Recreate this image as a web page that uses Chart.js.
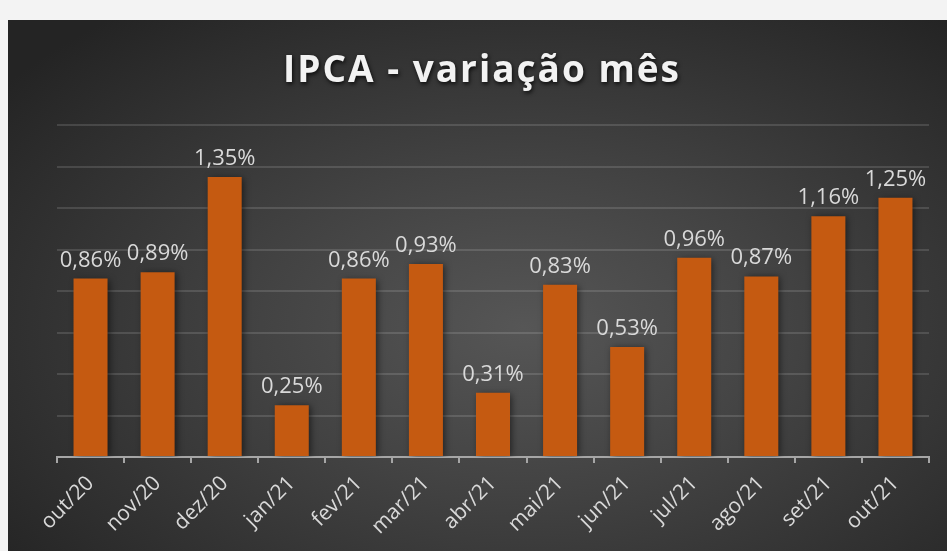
<!DOCTYPE html>
<html>
<head>
<meta charset="utf-8">
<script src="https://cdn.jsdelivr.net/npm/chart.js@4"></script>
<style>
    html, body { margin: 0; padding: 0; }
    body { width: 947px; height: 551px; background: #f3f3f3; position: relative; overflow: hidden; }
    .Painel {
        position: absolute; left: 8px; top: 20px; width: 939px; height: 531px;
        background: radial-gradient(ellipse 70% 75% at 55% 58%, #565656 0%, #434343 40%, #2c2c2c 85%, #242424 100%);
    }
    canvas { display: block; }
</style>
</head>
<body>
<div class="Painel"><canvas id="graph-1" width="939" height="531"></canvas></div>
<script>
// dados do gráfico
const meses   = ['out/20', 'nov/20', 'dez/20', 'jan/21', 'fev/21', 'mar/21', 'abr/21', 'mai/21', 'jun/21', 'jul/21', 'ago/21', 'set/21', 'out/21']
const ipca    = [0.86, 0.89, 1.35, 0.25, 0.86, 0.93, 0.31, 0.83, 0.53, 0.96, 0.87, 1.16, 1.25]
const titulo  = 'IPCA - variação mês'

const fmt = v => v.toFixed(2).replace('.', ',') + '%'

// titulo com sombra
const tituloPlugin = {
    id: 'tituloPlugin',
    afterDraw(chart){
        const ctx = chart.ctx
        ctx.save()
        ctx.font = 'bold 37px "Open Sans"'
        if ('letterSpacing' in ctx) ctx.letterSpacing = '2px'
        ctx.fillStyle = '#f2f2f2'
        ctx.textAlign = 'center'
        ctx.textBaseline = 'alphabetic'
        ctx.shadowColor = 'rgba(0,0,0,0.8)'
        ctx.shadowBlur = 4
        ctx.shadowOffsetX = 1
        ctx.shadowOffsetY = 2
        ctx.fillText(titulo, 474, 62)
        ctx.restore()
    }
}

// sombra das barras
const sombraPlugin = {
    id: 'sombraPlugin',
    beforeDatasetsDraw(chart){
        const ctx = chart.ctx
        ctx.save()
        ctx.shadowColor = 'rgba(0,0,0,0.55)'
        ctx.shadowBlur = 7
        ctx.shadowOffsetX = 2
        ctx.shadowOffsetY = 1
    },
    afterDatasetsDraw(chart){
        chart.ctx.restore()
    }
}

// rotulos dos valores
const rotulosPlugin = {
    id: 'rotulosPlugin',
    afterDatasetsDraw(chart){
        const ctx = chart.ctx
        const meta = chart.getDatasetMeta(0)
        ctx.save()
        ctx.font = '22px "Open Sans"'
        ctx.fillStyle = '#d9d9d9'
        ctx.textAlign = 'center'
        ctx.textBaseline = 'alphabetic'
        meta.data.forEach((bar, i) => {
            ctx.fillText(fmt(ipca[i]), bar.x, bar.y - 12)
        })
        ctx.restore()
    }
}

let graph1 = {
    type: 'bar',
    data: {
        labels: meses,
        datasets: [{
            label: 'IPCA',
            data: ipca,
            backgroundColor: '#c55a11',
            borderWidth: 0,
            categoryPercentage: 1,
            barPercentage: 0.507
        }]
    },
    options: {
        responsive: false,
        animation: false,
        layout: {
            padding: { left: 49, right: 18, top: 105, bottom: 0 }
        },
        plugins: {
            legend: { display: false },
            title: { display: false },
            tooltip: { enabled: false }
        },
        scales: {
            x: {
                offset: true,
                afterFit: scale => { scale.height = 94 },
                grid: {
                    display: true,
                    offset: true,
                    drawOnChartArea: false,
                    drawTicks: true,
                    tickLength: 6,
                    color: '#a6a6a6',
                    lineWidth: 2
                },
                border: { display: true, color: '#a6a6a6', width: 2 },
                ticks: {
                    color: '#d9d9d9',
                    font: { family: 'Open Sans', size: 21 },
                    minRotation: 45,
                    maxRotation: 45,
                    autoSkip: false,
                    padding: 8
                }
            },
            y: {
                min: 0,
                max: 1.6,
                ticks: { display: false, stepSize: 0.2 },
                grid: {
                    color: 'rgba(255,255,255,0.13)',
                    lineWidth: 2,
                    drawTicks: false
                },
                border: { display: false }
            }
        }
    },
    plugins: [sombraPlugin, rotulosPlugin, tituloPlugin]
}

let canvas = document.getElementById('graph-1')
let ctx = canvas.getContext('2d')
let chart = new Chart(ctx, graph1)
</script>
</body>
</html>
